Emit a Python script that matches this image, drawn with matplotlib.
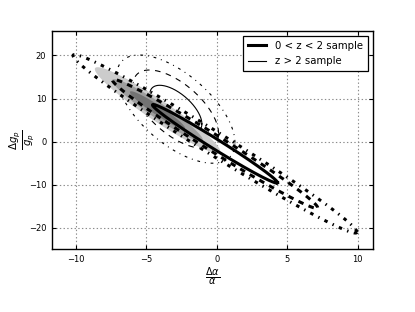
import numpy as np
import matplotlib
matplotlib.use("Agg")
import matplotlib.pyplot as plt
from matplotlib.lines import Line2D

plt.rcParams['lines.scale_dashes'] = False
plt.rcParams['font.family'] = ['DejaVu Sans']
plt.rcParams['mathtext.fontset'] = 'dejavusans'

# confidence levels: sqrt(chi2) for 2 dof (1, 2, 3 sigma)
levels = [1.515, 2.486, 3.439]

# 0 < z < 2 sample (thick curves)
low_center = [-0.12, -0.5]
low_sigma = [2.93, 6.02]
low_rho = -0.9887

# z > 2 sample (thin curves)
high_center = [-2.9, 7.55]
high_sigma = [1.22, 3.65]
high_rho = -0.62

# combined constraint (grey filled)
comb_center = [-4.2, 7.3]
comb_sigma = [1.294, 2.9]
comb_rho = -0.955
comb_greys = ['0.80', '0.62', '0.45']

legend_labels = ['0 < z < 2 sample', 'z > 2 sample']
xticks = [-10, -5, 0, 5, 10]
yticks = [-20, -10, 0, 10, 20]

t = np.linspace(0, 2 * np.pi, 400)


def ellipse(center, sigma, rho, k):
    x = center[0] + k * sigma[0] * np.cos(t)
    y = center[1] + k * sigma[1] * (rho * np.cos(t) + np.sqrt(1 - rho ** 2) * np.sin(t))
    return x, y


fig = plt.figure(figsize=(4.15, 3.12), dpi=100)
ax = fig.add_axes([0.125, 0.202, 0.774, 0.699])

thin_styles = ['-', (0, (4, 4)), (0, (2, 3.5, 0.7, 3.5))]
thick_styles = ['-', (0, (4, 4)), (0, (2.5, 4, 1, 4))]

for k, ls in zip(levels, thin_styles):
    x, y = ellipse(high_center, high_sigma, high_rho, k)
    ax.plot(x, y, color='black', lw=0.8, ls=ls, zorder=2)

for k, c in zip(levels[::-1], comb_greys):
    x, y = ellipse(comb_center, comb_sigma, comb_rho, k)
    ax.fill(x, y, color=c, lw=0, zorder=3)

for k, ls in zip(levels, thick_styles):
    x, y = ellipse(low_center, low_sigma, low_rho, k)
    ax.plot(x, y, color='black', lw=2.2, ls=ls, zorder=4)

ax.set_xlim(-11.7, 11.1)
ax.set_ylim(-24.9, 25.7)
ax.set_xticks(xticks)
ax.set_yticks(yticks)
ax.grid(True, color='0.55', ls=':', lw=0.8)
ax.set_axisbelow(True)
ax.tick_params(direction='in', top=True, right=True, labelsize=6, length=3, pad=4)
for s in ax.spines.values():
    s.set_linewidth(1.0)

ax.set_xlabel(r'$\frac{\Delta\alpha}{\alpha}$', fontsize=10, labelpad=1)
ax.set_ylabel(r'$\frac{\Delta g_p}{g_p}$', fontsize=10.5)
ax.yaxis.set_label_coords(-0.047, 0.5)

handles = [Line2D([], [], color='black', lw=2.2), Line2D([], [], color='black', lw=0.8)]
leg = ax.legend(handles, legend_labels, loc='upper right', fontsize=7.3, fancybox=False,
                framealpha=1, edgecolor='black', borderaxespad=0.5, handlelength=1.8,
                borderpad=0.5, labelspacing=0.5, handletextpad=0.9)
leg.get_frame().set_linewidth(0.9)
leg.set_zorder(10)

fig.savefig('out.png', dpi=100)
